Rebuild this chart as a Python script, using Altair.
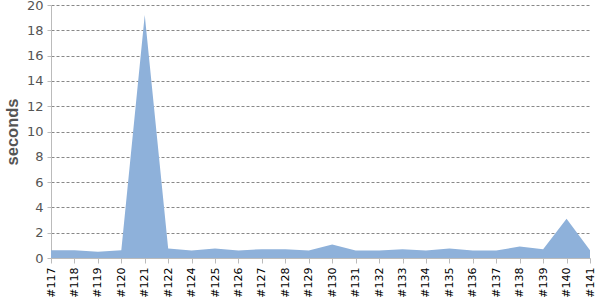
import altair as alt
import pandas as pd

builds = ["#117", "#118", "#119", "#120", "#121", "#122", "#124", "#125", "#126", "#127",
          "#128", "#129", "#130", "#131", "#132", "#133", "#134", "#135", "#136", "#137",
          "#138", "#139", "#140", "#141"]
seconds = [0.62, 0.62, 0.5, 0.62, 19.2, 0.75, 0.6, 0.75, 0.6, 0.7,
           0.7, 0.6, 1.07, 0.6, 0.6, 0.7, 0.6, 0.75, 0.6, 0.6,
           0.9, 0.7, 3.1, 0.62]

df = pd.DataFrame({"build": builds, "seconds": seconds})

chart = alt.Chart(df).mark_area(color="#8EB1DA", opacity=1).encode(
    x=alt.X("build:N", sort=builds, title=None,
            scale=alt.Scale(type="point", padding=0),
            axis=alt.Axis(labelAngle=270, labelAlign="right", labelBaseline="middle",
                          labelFontSize=11, labelColor="#000", labelFont="DejaVu Sans",
                          domainColor="#bbb", tickColor="#bbb", tickSize=5,
                          grid=False, labelPadding=4)),
    y=alt.Y("seconds:Q", title="seconds",
            scale=alt.Scale(domain=[0, 20], nice=False),
            axis=alt.Axis(values=list(range(0, 21, 2)), labelFontSize=13, labelColor="#555",
                          labelFont="DejaVu Sans", titleFont="Liberation Sans", titleFontSize=16.5,
                          titleFontWeight="bold", titleColor="#555", titlePadding=6,
                          domainColor="#bbb", tickColor="#bbb", tickSize=4,
                          grid=True, gridColor="#888", gridDash=[3, 2], gridWidth=1,
                          labelPadding=4))
).properties(
    width=539, height=253,
    autosize=alt.AutoSizeParams(type="none"),
    padding={"left": 51, "top": 5, "right": 10, "bottom": 42}
).configure_view(stroke=None)

chart.save("out.html", embed_options={"renderer": "svg", "actions": False})
